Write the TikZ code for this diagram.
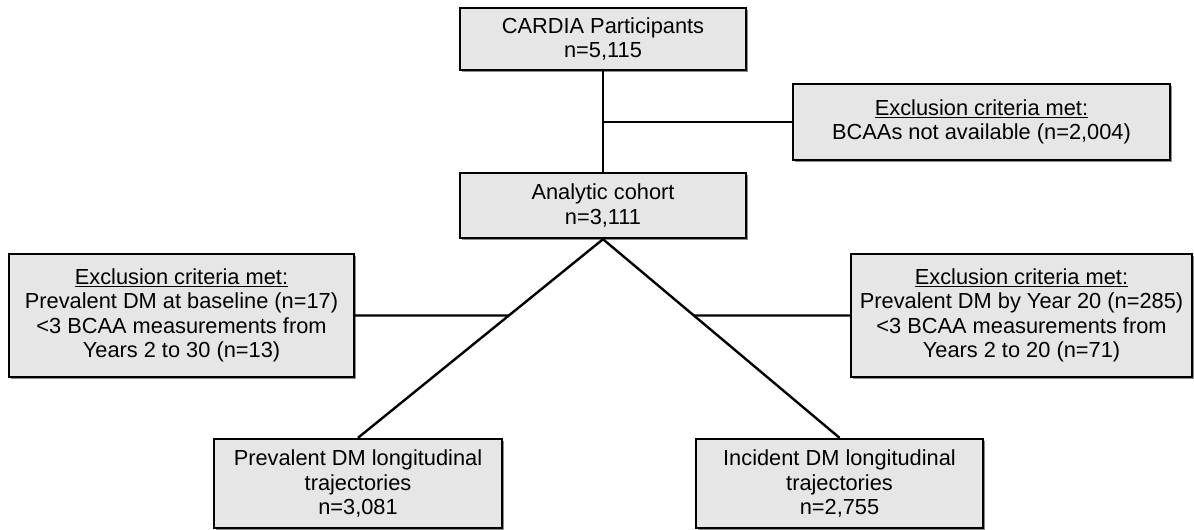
\documentclass[tikz,border=0pt]{standalone}
\usepackage{fontspec}
\setmainfont{Liberation Sans}
\usepackage{tikz}
\usetikzlibrary{shadows}
\definecolor{boxFill}{RGB}{230,230,230}
\tikzstyle{flowChart} = [x = 1pt, y = -1pt]
\tikzstyle{boxStyle} = [draw=black, fill=boxFill, line width=2.4pt, align=center, inner sep=0pt,
  font=\fontsize{21.8}{24.5}\selectfont,
  drop shadow={shadow xshift=1.5pt, shadow yshift=-1.5pt, fill=black!45, opacity=1}]
\tikzstyle{connector} = [draw=black, line width=2.4pt]
\newcommand{\exclHead}{\underline{Exclusion criteria met:}}
\begin{document}
\begin{tikzpicture}[flowChart]
  \useasboundingbox (0,0) rectangle (1194,530);
  % main column
  \node [boxStyle, minimum width=286pt, minimum height=62pt] (cardia) at (603,39)
    {CARDIA Participants\\n=5,115};
  \node [boxStyle, minimum width=286pt, minimum height=65pt] (cohort) at (603,205.5)
    {Analytic cohort\\n=3,111};
  \node [boxStyle, minimum width=377pt, minimum height=76pt] (exclTop) at (981.5,122)
    {\exclHead\\BCAAs not available (n=2,004)};
  % exclusion boxes
  \node [boxStyle, minimum width=345pt, minimum height=123pt] (exclLeft) at (181.5,315.5)
    {\exclHead\\Prevalent DM at baseline (n=17)\\<3 BCAA measurements from\\Years 2 to 30 (n=13)};
  \node [boxStyle, minimum width=341pt, minimum height=123pt] (exclRight) at (1021.5,315.5)
    {\exclHead\\Prevalent DM by Year 20 (n=285)\\<3 BCAA measurements from\\Years 2 to 20 (n=71)};
  % trajectory boxes
  \node [boxStyle, minimum width=288pt, minimum height=89pt] (prevalent) at (358,483.5)
    {Prevalent DM longitudinal\\trajectories\\n=3,081};
  \node [boxStyle, minimum width=287pt, minimum height=89pt] (incident) at (839.5,483.5)
    {Incident DM longitudinal\\trajectories\\n=2,755};

  \coordinate (topJoin) at (cardia.south |- exclTop.west);
  \draw [connector] (cardia.south) -- (cohort.north);
  \draw [connector] (topJoin) -- (exclTop.west);
  \draw [connector] (cohort.south) -- (prevalent.north);
  \draw [connector] (cohort.south) -- (incident.north);
  \coordinate (leftJoin) at (intersection of cohort.south--prevalent.north and exclLeft.east--exclRight.west);
  \coordinate (rightJoin) at (intersection of cohort.south--incident.north and exclLeft.east--exclRight.west);
  \draw [connector] (exclLeft.east) -- (leftJoin);
  \draw [connector] (rightJoin) -- (exclRight.west);
\end{tikzpicture}
\end{document}
